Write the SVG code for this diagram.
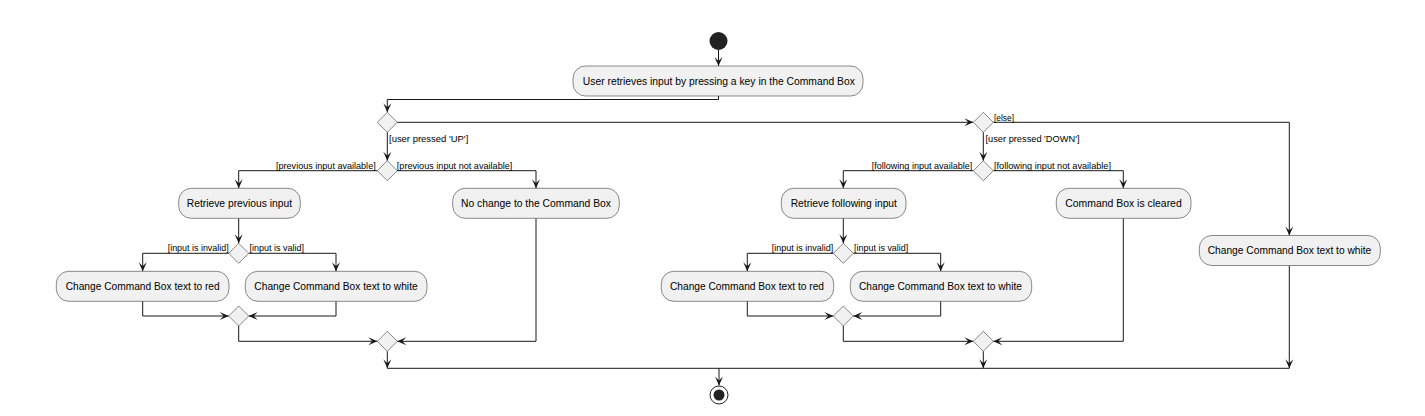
<svg xmlns="http://www.w3.org/2000/svg" width="1425" height="416" viewBox="0 0 1425 416">
<defs>
<marker id="arr" markerUnits="userSpaceOnUse" markerWidth="12" markerHeight="10" viewBox="-10 -5 12 10" refX="0" refY="0" orient="auto">
<path d="M0,0 L-9,-4 L-5,0 L-9,4 Z" fill="#181818"/>
</marker>
</defs>
<style>
.box{fill:#F1F1F1;stroke:#181818;stroke-width:0.5}
.dia{fill:#F1F1F1;stroke:#181818;stroke-width:0.5}
.t{font-family:"Liberation Sans",Arial,sans-serif;font-size:10.9px;fill:#000;text-anchor:middle}
.g{font-family:"Liberation Sans",Arial,sans-serif;font-size:9.8px;fill:#000}
.ge{text-anchor:end}
.c{fill:none;stroke:#181818;stroke-width:1}
.a{marker-end:url(#arr)}
</style>
<rect width="1425" height="416" fill="#FFFFFF"/>

<g id="connectors">
<path class="c a" d="M718.5,50 V66"/>
<path class="c a" d="M718.5,96 V99.5 H387.3 V112.3"/>
<path class="c a" d="M397.3,122.3 H973.3"/>
<path class="c a" d="M993.3,122.3 H1289.3 V235.5"/>
<path class="c a" d="M1289.3,265.5 V368.3"/>
<path class="c a" d="M387.3,132.3 V160.7"/>
<path class="c a" d="M377.3,170.7 H238.7 V188.3"/>
<path class="c a" d="M397.3,170.7 H536 V188.3"/>
<path class="c a" d="M238.7,218.3 V243.3"/>
<path class="c a" d="M228.7,253.3 H142.7 V271.3"/>
<path class="c a" d="M248.7,253.3 H336 V271.3"/>
<path class="c a" d="M142.7,301.3 V316 H228.7"/>
<path class="c a" d="M336,301.3 V316 H248.7"/>
<path class="c a" d="M238.7,326 V341.3 H377.3"/>
<path class="c a" d="M536,218.3 V341.3 H397.3"/>
<path class="c a" d="M387.3,351.3 V368.3"/>
<path class="c a" d="M983.3,132.3 V160.7"/>
<path class="c a" d="M973.3,170.7 H843.3 V188.3"/>
<path class="c a" d="M993.3,170.7 H1123.3 V188.3"/>
<path class="c a" d="M843.3,218.3 V243.3"/>
<path class="c a" d="M833.3,253.3 H747.3 V271.3"/>
<path class="c a" d="M853.3,253.3 H940.7 V271.3"/>
<path class="c a" d="M747.3,301.3 V316 H833.3"/>
<path class="c a" d="M940.7,301.3 V316 H853.3"/>
<path class="c a" d="M843.3,326 V341.3 H973.3"/>
<path class="c a" d="M1123.3,218.3 V341.3 H993.3"/>
<path class="c a" d="M983.3,351.3 V368.3"/>
<path class="c" d="M387.3,368.3 H1289.3"/>
<path class="c a" d="M719,368.3 V385.5"/>
<text class="g" x="389" y="141.8" textLength="79.3" lengthAdjust="spacingAndGlyphs">[user pressed 'UP']</text>
<text class="g" x="994" y="121.2" textLength="20" lengthAdjust="spacingAndGlyphs">[else]</text>
<text class="g" x="985.5" y="141.8" textLength="94" lengthAdjust="spacingAndGlyphs">[user pressed 'DOWN']</text>
<text class="g ge" x="375.7" y="168.5" textLength="99.7" lengthAdjust="spacingAndGlyphs">[previous input available]</text>
<text class="g" x="396.8" y="168.5" textLength="115.6" lengthAdjust="spacingAndGlyphs">[previous input not available]</text>
<text class="g ge" x="228.7" y="251" textLength="61" lengthAdjust="spacingAndGlyphs">[input is invalid]</text>
<text class="g" x="249.4" y="251" textLength="54.7" lengthAdjust="spacingAndGlyphs">[input is valid]</text>
<text class="g ge" x="972.3" y="168.5" textLength="100.6" lengthAdjust="spacingAndGlyphs">[following input available]</text>
<text class="g" x="994" y="168.5" textLength="117" lengthAdjust="spacingAndGlyphs">[following input not available]</text>
<text class="g ge" x="833.3" y="251" textLength="61.6" lengthAdjust="spacingAndGlyphs">[input is invalid]</text>
<text class="g" x="854" y="251" textLength="54.3" lengthAdjust="spacingAndGlyphs">[input is valid]</text>
</g>

<g id="start"><circle cx="718.5" cy="41" r="9" fill="#222222"/></g>

<g id="n_user_retrieves">
<rect class="box" x="573" y="66" width="290" height="30" rx="12.5"/>
<text class="t" x="718.8" y="84.8" textLength="272" lengthAdjust="spacingAndGlyphs">User retrieves input by pressing a key in the Command Box</text>
</g>

<g id="d_up"><polygon class="dia" points="387.3,112.3 397.3,122.3 387.3,132.3 377.3,122.3"/></g>
<g id="d_down"><polygon class="dia" points="983.3,112.3 993.3,122.3 983.3,132.3 973.3,122.3"/></g>

<g id="d_prev"><polygon class="dia" points="387.3,160.7 397.3,170.7 387.3,180.7 377.3,170.7"/></g>

<g id="n_retrieve_prev">
<rect class="box" x="178.7" y="188.3" width="121.6" height="30" rx="12.5"/>
<text class="t" x="239.4" y="207.2" textLength="105.3" lengthAdjust="spacingAndGlyphs">Retrieve previous input</text>
</g>

<g id="n_no_change">
<rect class="box" x="452.7" y="188.3" width="166.6" height="30" rx="12.5"/>
<text class="t" x="536" y="207.2" textLength="150" lengthAdjust="spacingAndGlyphs">No change to the Command Box</text>
</g>

<g id="d_valid_l"><polygon class="dia" points="238.7,243.3 248.7,253.3 238.7,263.3 228.7,253.3"/></g>

<g id="n_red_l">
<rect class="box" x="56.3" y="271.3" width="172.7" height="30" rx="12.5"/>
<text class="t" x="142.7" y="290.2" textLength="154" lengthAdjust="spacingAndGlyphs">Change Command Box text to red</text>
</g>

<g id="n_white_l">
<rect class="box" x="245.3" y="271.3" width="181.7" height="30" rx="12.5"/>
<text class="t" x="336" y="290.2" textLength="163.3" lengthAdjust="spacingAndGlyphs">Change Command Box text to white</text>
</g>

<g id="m_valid_l"><polygon class="dia" points="238.7,306 248.7,316 238.7,326 228.7,316"/></g>
<g id="m_prev"><polygon class="dia" points="387.3,331.3 397.3,341.3 387.3,351.3 377.3,341.3"/></g>

<g id="d_follow"><polygon class="dia" points="983.3,160.7 993.3,170.7 983.3,180.7 973.3,170.7"/></g>

<g id="n_retrieve_follow">
<rect class="box" x="781.3" y="188.3" width="124.7" height="30" rx="12.5"/>
<text class="t" x="843.8" y="207.2" textLength="106.3" lengthAdjust="spacingAndGlyphs">Retrieve following input</text>
</g>

<g id="n_cleared">
<rect class="box" x="1056.3" y="188.3" width="134.7" height="30" rx="12.5"/>
<text class="t" x="1123.5" y="207.2" textLength="116.4" lengthAdjust="spacingAndGlyphs">Command Box is cleared</text>
</g>

<g id="d_valid_r"><polygon class="dia" points="843.3,243.3 853.3,253.3 843.3,263.3 833.3,253.3"/></g>

<g id="n_red_r">
<rect class="box" x="661.3" y="271.3" width="172.4" height="30" rx="12.5"/>
<text class="t" x="747" y="290.2" textLength="154" lengthAdjust="spacingAndGlyphs">Change Command Box text to red</text>
</g>

<g id="n_white_r">
<rect class="box" x="850.3" y="271.3" width="181.4" height="30" rx="12.5"/>
<text class="t" x="940.5" y="290.2" textLength="163" lengthAdjust="spacingAndGlyphs">Change Command Box text to white</text>
</g>

<g id="m_valid_r"><polygon class="dia" points="843.3,306 853.3,316 843.3,326 833.3,316"/></g>
<g id="m_follow"><polygon class="dia" points="983.3,331.3 993.3,341.3 983.3,351.3 973.3,341.3"/></g>

<g id="n_white_else">
<rect class="box" x="1199.3" y="235.5" width="181" height="30" rx="12.5"/>
<text class="t" x="1289.5" y="254.4" textLength="163.6" lengthAdjust="spacingAndGlyphs">Change Command Box text to white</text>
</g>

<g id="end">
<circle cx="719" cy="395" r="9" fill="#FFFFFF" stroke="#222222" stroke-width="1"/>
<circle cx="719" cy="395" r="5.5" fill="#222222"/>
</g>
</svg>
